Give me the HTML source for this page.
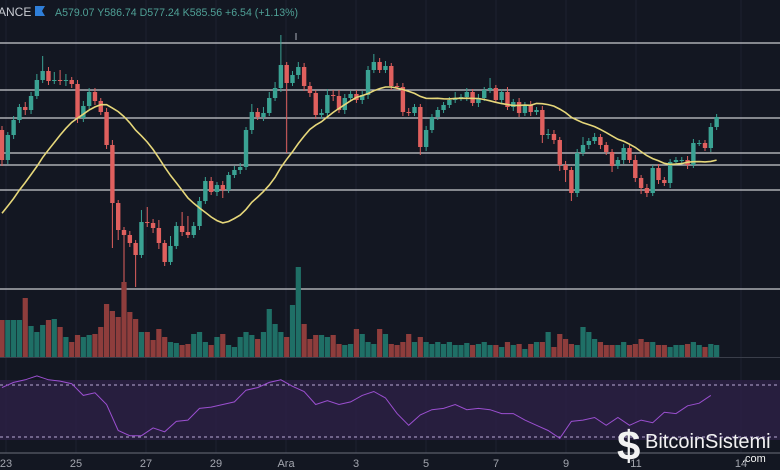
<!DOCTYPE html>
<html><head><meta charset="utf-8">
<style>
html,body{margin:0;padding:0;background:#131722;}
#wrap{position:relative;width:780px;height:470px;overflow:hidden;background:#131722;font-family:"Liberation Sans",sans-serif;}
svg{position:absolute;left:0;top:0;}
</style></head>
<body>
<div id="wrap">
<svg id="chart" width="780" height="470">
  <rect x="0" y="0" width="780" height="470" fill="#131722"/>
  <g id="grid"></g>
  <rect x="0" y="380" width="780" height="60" fill="#2d2146" opacity="0.8"/>
  <line x1="0" y1="385" x2="780" y2="385" stroke="#b9a9d6" stroke-dasharray="3,3" stroke-width="1"/>
  <line x1="0" y1="437" x2="780" y2="437" stroke="#b9a9d6" stroke-dasharray="3,3" stroke-width="1"/>
  <line x1="0" y1="357.5" x2="780" y2="357.5" stroke="#3a3e4a" stroke-width="1"/>
  <line x1="0" y1="453" x2="780" y2="453" stroke="#6b6f7a" stroke-width="1"/>
  <g id="hlines"></g>
  <g id="vol"></g>
  <g id="candles"></g>
  <path id="ma" fill="none" stroke="#e6d77a" stroke-width="1.6"/>
  <path id="rsi" fill="none" stroke="#9b4fd0" stroke-width="1"/>
  <g id="xaxis"></g>
  <line x1="296" y1="33" x2="296" y2="40" stroke="#787b86" stroke-width="1.5"/>
  <text x="-2" y="16" fill="#c9ccd3" font-size="12">ANCE</text>
  <path d="M35 6 H45 L42 11 L45 16 H35 Z" fill="#2f7fd9"/>
  <text x="55" y="16" fill="#4fa096" font-size="10.6">A579.07 Y586.74 D577.24 K585.56 +6.54 (+1.13%)</text>
  <g>
    <text x="617" y="460" fill="#f2f2f2" font-size="42" font-weight="bold">$</text>
    <text x="645" y="448" fill="#f2f2f2" font-size="20">BitcoinSistemi</text>
    <text x="742" y="462" fill="#f2f2f2" font-size="11">.com</text>
  </g>
</svg>
</div>
<script>
// price units: y = 600 - price
const prevCloses = [320,330,325,340,345,355,350,365,375,370,385,395,400,415,425,435,445,455,465];
const openFirst = 470;
const closes = [440,465,480,493,490,504,520,529,519,520,519,520,516,482,494,508,499,488,455,397,370,365,357,345,378,377,372,357,338,354,374,368,365,374,399,419,408,415,410,425,430,433,470,488,483,487,502,512,535,517,525,533,514,507,485,487,505,504,490,502,506,500,505,530,538,530,534,514,513,488,487,493,453,470,483,490,495,500,502,503,508,497,502,510,512,500,508,493,498,487,495,488,490,465,466,460,435,430,407,447,455,459,463,455,448,434,440,452,440,422,412,407,432,420,417,438,440,440,435,457,457,452,473,483];
const wickUp = [4,3,4,3,5,4,6,15,4,8,10,6,3,4,5,4,4,3,4,5,3,3,4,3,12,15,4,8,3,10,4,14,16,4,4,4,4,3,4,3,4,4,3,8,4,6,6,6,30,3,4,5,4,4,3,4,6,5,6,4,3,4,4,4,8,4,5,3,3,4,4,3,3,4,3,3,3,3,6,3,4,3,4,3,10,3,3,5,3,4,3,4,3,4,5,4,3,4,3,4,8,3,4,3,3,3,3,4,3,5,3,4,3,4,3,3,3,3,4,4,3,3,4,3];
const wickDown = [6,4,4,3,5,4,3,3,4,3,4,5,4,5,4,3,4,3,4,45,10,47,4,32,3,4,5,6,4,3,3,4,3,3,4,3,3,4,8,3,3,4,3,4,3,4,3,3,4,70,3,4,5,4,4,4,4,5,3,4,3,3,4,4,3,3,3,4,3,4,3,3,8,4,3,3,3,3,3,3,4,3,4,3,3,3,4,3,4,4,3,4,3,8,4,4,6,12,8,4,3,4,3,4,3,6,3,4,3,4,6,4,3,4,3,5,3,3,4,3,3,3,4,3];
const volumes = [37,37,37,37,59,31,25,32,37,38,30,20,15,22,20,22,23,30,53,46,40,75,45,38,25,25,17,28,20,15,14,12,13,23,25,15,12,20,23,12,10,20,25,22,18,25,48,33,25,20,52,90,33,18,22,22,20,22,13,12,13,28,23,15,13,28,23,13,12,15,23,15,20,15,13,15,13,15,12,12,14,12,13,15,12,12,10,15,12,13,8,13,15,15,25,10,23,18,13,12,30,25,18,15,12,12,12,15,12,13,18,15,15,12,12,10,12,12,13,15,12,10,13,12];
const rsiValues = [68,72,74,77,74,73,71,62,64,55,35,31,31,37,34,42,43,52,53,55,57,66,68,72,74,69,65,55,58,55,57,62,65,60,48,39,47,51,52,55,51,52,51,48,48,43,39,35,29,42,43,45,39,45,39,43,41,49,48,54,56,62];
const levels = [557,510,482,447,435,410,311];
const dateLabels = ["23","25","27","29","Ara","3","5","7","9","11","14"];
const dateDays = [0,2,4,6,8,10,12,14,16,18,21];

const NS = "http://www.w3.org/2000/svg";
const xScale = i => 2 + i * 5.81;
const yScale = p => 600 - p;
const dayX = d => 6 + d * 35;
const volY = v => 357 - v;
const rsiY = r => 437 - (r - 30) * 1.3;
const GREEN = "#3aa293", RED = "#e0605e", VG = "#1f6f66", VR = "#8e3d3c";

function mk(tag, attrs, parent){const e=document.createElementNS(NS,tag);for(const k in attrs)e.setAttribute(k,attrs[k]);parent.appendChild(e);return e;}

const grid = document.getElementById('grid');
dateDays.forEach(d=>{
  const l = mk('line',{x1:dayX(d),x2:dayX(d),y1:0,y2:453,stroke:'#1c2030','stroke-width':1},grid);
  
  
});

const hl = document.getElementById('hlines');
levels.forEach(p=>{
  const l = mk('line',{x1:0,x2:780,y1:yScale(p),y2:yScale(p),stroke:'#c9cbd0','stroke-width':1.3},hl);
  
  
});

const cg = document.getElementById('candles'), vg = document.getElementById('vol');
closes.forEach((c,i)=>{
  const o = i===0 ? openFirst : closes[i-1];
  const up = c >= o;
  const col = up ? GREEN : RED;
  const x = xScale(i);
  const hi = Math.max(o,c) + wickUp[i], lo = Math.min(o,c) - wickDown[i];
  const w = mk('line',{x1:x,x2:x,y1:yScale(hi),y2:yScale(lo),stroke:col,'stroke-width':1},cg);
  
  
  const top = yScale(Math.max(o,c)), h = Math.max(1, Math.abs(o-c));
  const b = mk('rect',{x:x-2.2,y:top,width:4.4,height:h,fill:col},cg);
  
  
  const v = mk('rect',{x:x-2.6,y:volY(volumes[i]),width:5.2,height:volumes[i],fill:up?VG:VR},vg);
  
  
});

// 20-period SMA
const all = prevCloses.concat(closes);
let d = '';
closes.forEach((c,i)=>{
  const j = i + prevCloses.length;
  let s = 0; for(let k=j-19;k<=j;k++) s += all[k];
  const y = yScale(s/20);
  d += (i===0?'M':'L') + xScale(i).toFixed(1) + ' ' + y.toFixed(1) + ' ';
});
document.getElementById('ma').setAttribute('d', d);

let r = '';
rsiValues.forEach((v,k)=>{ r += (k===0?'M':'L') + xScale(k*2).toFixed(1) + ' ' + rsiY(v).toFixed(1) + ' '; });
document.getElementById('rsi').setAttribute('d', r);

const xa = document.getElementById('xaxis');
dateLabels.forEach((t,k)=>{
  const e = mk('text',{x:dayX(dateDays[k]),y:467,fill:'#a3a6af','font-size':11,'text-anchor':'middle'},xa);
  e.textContent = t;
  
  
});
</script>
</body></html>
